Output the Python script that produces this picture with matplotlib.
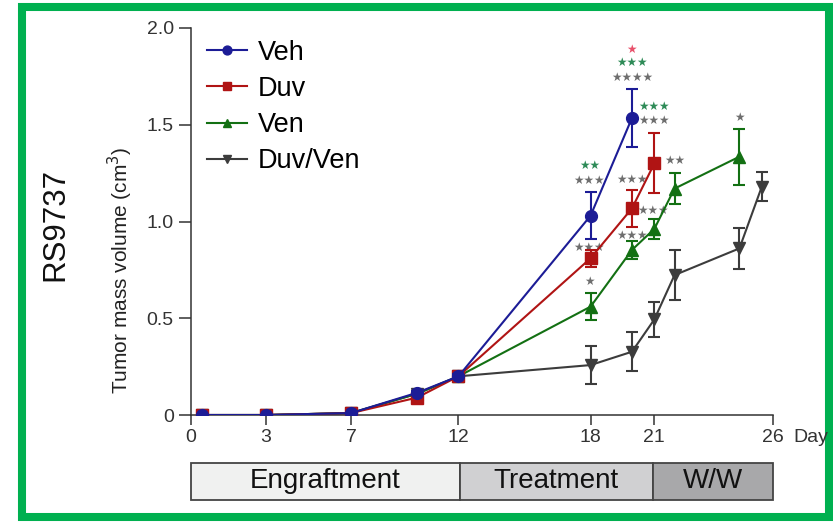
import matplotlib
matplotlib.use("Agg")
import matplotlib.pyplot as plt
from matplotlib.patches import Rectangle
import numpy as np

plt.rcParams['font.family'] = ['Liberation Sans', 'DejaVu Sans']

# sampling positions along the day axis
days = [0.48, 3.35, 7.15, 10.1, 11.95, 17.85, 19.7, 20.7, 21.6, 24.5, 25.5]

veh = [0, 0, 0.01, 0.115, 0.2, 1.03, 1.535]
veh_err = [0, 0, 0, 0.01, 0.01, 0.12, 0.15]
duv = [0, 0, 0.01, 0.09, 0.2, 0.81, 1.068, 1.30]
duv_err = [0, 0, 0, 0.01, 0.01, 0.045, 0.095, 0.155]
ven = [0, 0, 0.01, 0.11, 0.2, 0.56, 0.853, 0.962, 1.17, 1.335]
ven_err = [0, 0, 0, 0.01, 0.01, 0.07, 0.045, 0.05, 0.08, 0.145]
duvven = [0, 0, 0.01, 0.11, 0.2, 0.258, 0.327, 0.494, 0.723, 0.861, 1.18]
duvven_err = [0, 0, 0, 0.01, 0.01, 0.1, 0.1, 0.09, 0.13, 0.105, 0.075]

tick_pos = [0, 3.35, 7.15, 11.95, 17.85, 20.7, 26]
tick_labels = ['0', '3', '7', '12', '18', '21', '26']

phases = ['Engraftment', 'Treatment', 'W/W']
phase_edges = [0, 12.0, 20.64, 26]
phase_colors = ['#f0f1f0', '#d0d0d2', '#a8a8aa']

# significance marks: (day, height, text, colour)
stars = [
    (19.7, 1.891, '★', '#e8506a'),
    (19.7, 1.823, '★★★', '#2e8b57'),
    (19.7, 1.745, '★★★★', '#6e6e6e'),
    (20.7, 1.597, '★★★', '#2e8b57'),
    (20.7, 1.521, '★★★', '#6e6e6e'),
    (17.8, 1.292, '★★', '#2e8b57'),
    (17.8, 1.214, '★★★', '#6e6e6e'),
    (19.7, 1.218, '★★★', '#6e6e6e'),
    (21.6, 1.313, '★★', '#6e6e6e'),
    (24.5, 1.539, '★', '#6e6e6e'),
    (20.66, 1.056, '★★★', '#6e6e6e'),
    (19.7, 0.930, '★★★', '#6e6e6e'),
    (17.8, 0.867, '★★★', '#6e6e6e'),
    (17.8, 0.689, '★', '#6e6e6e'),
]

fig = plt.figure(figsize=(8.33, 5.22), dpi=100)
ax = fig.add_axes([191/833, 1-415/522, 582/833, 387/522])

series = [
    ('Duv/Ven', duvven, duvven_err, 'v', '#3c3c3c'),
    ('Ven', ven, ven_err, '^', '#137013'),
    ('Duv', duv, duv_err, 's', '#b01414'),
    ('Veh', veh, veh_err, 'o', '#1c1c96'),
]
handles = {}
for z, (name, vals, err, mk, col) in enumerate(series):
    x = days[:len(vals)]
    c = ax.errorbar(x, vals, yerr=err, fmt='-' + mk, color=col, mfc=col, mec=col,
                    ms=8.5, lw=1.5, elinewidth=1.5, capsize=4.5, capthick=1.5,
                    label=name, zorder=2 + z)
    handles[name] = c[0]

for x, y, t, col in stars:
    ax.text(x, y, t, color=col, fontsize=8.5, ha='center', va='center',
            family=['DejaVu Sans'])

ax.set_xlim(0, 26)
ax.set_ylim(0, 2.0)
ax.set_xticks(tick_pos)
ax.set_xticklabels(tick_labels)
ax.set_yticks([0, 0.5, 1.0, 1.5, 2.0])
ax.set_yticklabels(['0', '0.5', '1.0', '1.5', '2.0'])
ax.tick_params(axis='y', length=8.5, width=1.1, labelsize=14, pad=4, colors='#333333')
ax.tick_params(axis='x', length=7, width=1.1, labelsize=14, pad=3, colors='#333333')
for s in ['top', 'right']:
    ax.spines[s].set_visible(False)
for s in ['left', 'bottom']:
    ax.spines[s].set_linewidth(1.1)
    ax.spines[s].set_color('#333333')
ax.spines['left'].set_bounds(0, 2.0)

ax.text(-0.122, 0.375, 'Tumor mass volume (cm$^3$)', transform=ax.transAxes,
        rotation=90, ha='center', va='center', fontsize=15, color='#222222')
fig.text(55/833, 1-224/522, 'RS9737', rotation=90, ha='center', va='center',
         fontsize=22.5, color='#111111')
fig.text(793/833, 1-438/522, 'Day', ha='left', va='center', fontsize=14,
         color='#333333')

ax.legend([handles[n] for n in ['Veh', 'Duv', 'Ven', 'Duv/Ven']],
          ['Veh', 'Duv', 'Ven', 'Duv/Ven'], loc='upper left',
          bbox_to_anchor=(0.027, 0.97), frameon=False, fontsize=19.5,
          handlelength=1.5, handletextpad=0.4, labelspacing=0.38,
          borderpad=0, borderaxespad=0, markerscale=0.75)

# phase bar under the axis
bar = fig.add_axes([191/833, 1-500/522, 582/833, 37/522])
bar.set_xlim(0, 26)
bar.set_ylim(0, 1)
bar.axis('off')
for i, name in enumerate(phases):
    x0, x1 = phase_edges[i], phase_edges[i + 1]
    bar.add_patch(Rectangle((x0, 0), x1 - x0, 1, facecolor=phase_colors[i],
                            edgecolor='#444444', lw=1.3, clip_on=False))
    bar.text((x0 + x1) / 2, 0.5, name, ha='center', va='center', fontsize=20,
             color='#111111')

# green frame around the panel
fig.patches.append(Rectangle((22/833, 1-517/522), 807/833, 510/522, fill=False,
                             edgecolor='#00b050', lw=5.8,
                             transform=fig.transFigure, figure=fig))

fig.savefig('out.png', dpi=100)
